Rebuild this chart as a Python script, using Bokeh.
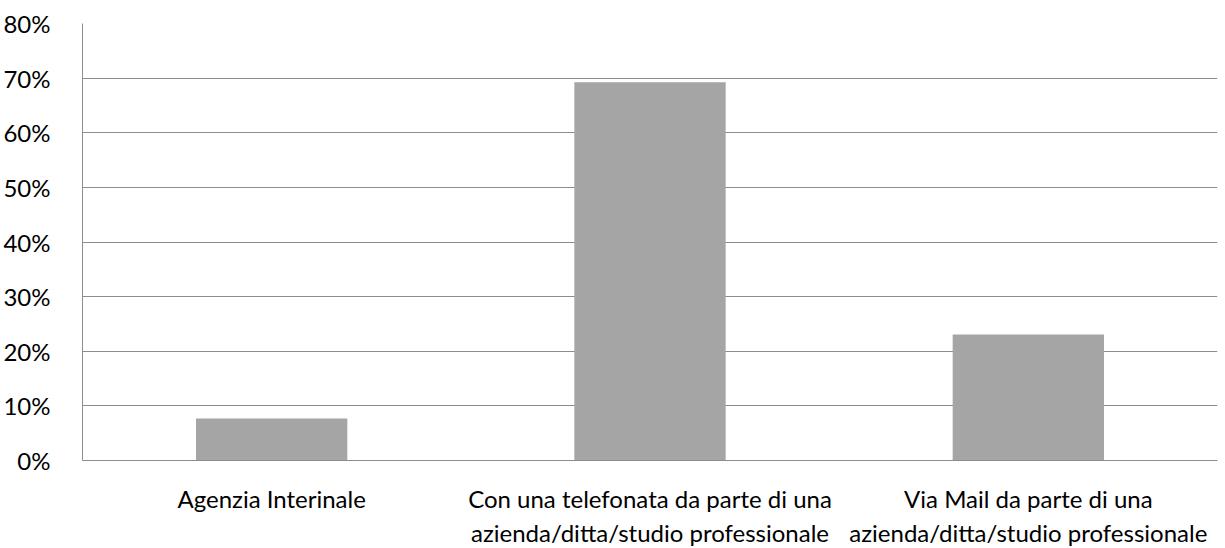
from bokeh.plotting import figure
from bokeh.models import ColumnDataSource, NumeralTickFormatter, FixedTicker, Range1d
from bokeh.embed import file_html
from bokeh.resources import INLINE

categories = ["Agenzia Interinale",
              "Con una telefonata da parte di una\nazienda/ditta/studio professionale",
              "Via Mail da parte di una\nazienda/ditta/studio professionale"]
values = [0.0769, 0.6923, 0.2308]
y_ticks = [0, 0.1, 0.2, 0.3, 0.4, 0.5, 0.6, 0.7, 0.8]

FONT = "Lato"

src = ColumnDataSource(dict(cat=categories, val=values))

p = figure(x_range=categories, y_range=Range1d(0, 0.8),
           frame_width=1135, frame_height=437,
           output_backend="svg", toolbar_location=None,
           min_border_left=80, min_border_right=10, min_border_top=23, min_border_bottom=86)

p.vbar(x="cat", top="val", width=0.4, source=src, fill_color="#a5a5a5", line_color=None)

p.outline_line_color = None
p.background_fill_color = "white"
p.border_fill_color = "white"

p.xgrid.grid_line_color = None
p.ygrid.grid_line_color = "#8c8c8c"
p.ygrid.grid_line_width = 1

p.yaxis.ticker = FixedTicker(ticks=y_ticks)
p.yaxis.formatter = NumeralTickFormatter(format="0%")
p.yaxis.axis_line_color = "#8c8c8c"
p.yaxis.major_tick_line_color = None
p.yaxis.minor_tick_line_color = None
p.yaxis.major_label_text_font = FONT
p.yaxis.major_label_text_font_size = "24px"
p.yaxis.major_label_text_color = "black"
p.yaxis.major_label_standoff = 26

p.xaxis.axis_line_color = "#8c8c8c"
p.xaxis.major_tick_line_color = None
p.xaxis.minor_tick_line_color = None
p.xaxis.major_label_text_font = FONT
p.xaxis.major_label_text_font_size = "24px"
p.xaxis.major_label_text_color = "black"
p.xaxis.major_label_standoff = 17
p.xaxis.major_label_text_line_height = 1.2

open("out.html", "w").write(file_html(p, INLINE))
